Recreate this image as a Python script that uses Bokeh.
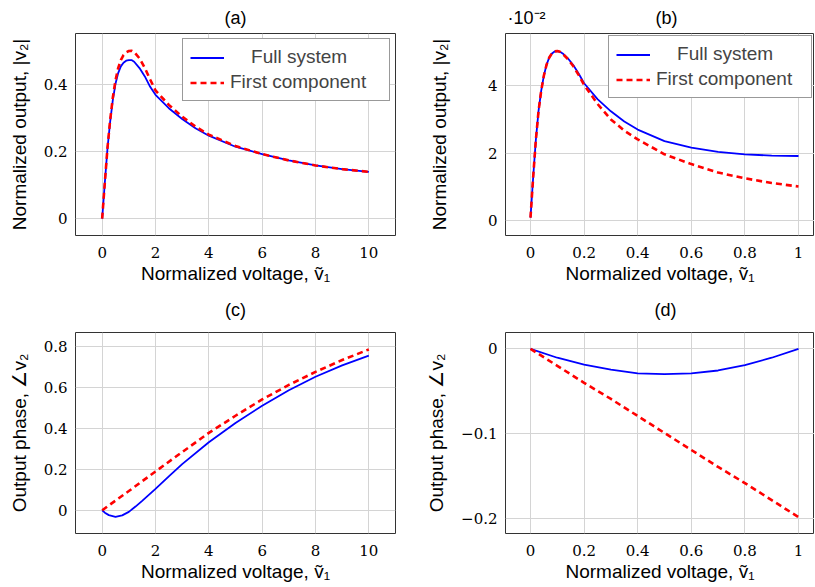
from bokeh.plotting import figure
from bokeh.layouts import column, row
from bokeh.models import FixedTicker, CustomJSTickFormatter, Range1d
from bokeh.embed import file_html
from bokeh.resources import INLINE

# ---------------- data ----------------
a_x = [0, 0.1, 0.2, 0.3, 0.4, 0.5, 0.6, 0.7, 0.8, 0.9, 1.0, 1.1, 1.2, 1.4, 1.6, 1.8, 2.0,
       2.5, 3.0, 3.5, 4.0, 5.0, 6.0, 7.0, 8.0, 9.0, 10.0]
a_full = [0, 0.108, 0.21, 0.29, 0.355, 0.403, 0.435, 0.455, 0.466, 0.472, 0.474, 0.474,
          0.469, 0.45, 0.425, 0.394, 0.37, 0.33, 0.298, 0.27, 0.248, 0.215, 0.193, 0.174,
          0.159, 0.148, 0.14]
a_first = [0, 0.108, 0.212, 0.295, 0.362, 0.413, 0.45, 0.474, 0.489, 0.497, 0.501, 0.502,
           0.498, 0.479, 0.45, 0.416, 0.383, 0.34, 0.305, 0.275, 0.251, 0.217, 0.193, 0.174,
           0.159, 0.148, 0.14]

b_x = [0, 0.01, 0.02, 0.03, 0.04, 0.05, 0.06, 0.07, 0.08, 0.09, 0.1, 0.11, 0.12, 0.14,
       0.16, 0.18, 0.2, 0.25, 0.3, 0.35, 0.4, 0.5, 0.6, 0.7, 0.8, 0.9, 1.0]
b_full = [0.1, 1.3, 2.4, 3.25, 3.85, 4.3, 4.62, 4.83, 4.95, 5.01, 5.02, 5.0, 4.95, 4.8,
          4.6, 4.35, 4.07, 3.6, 3.24, 2.94, 2.7, 2.36, 2.17, 2.04, 1.97, 1.93, 1.92]
b_first = [0.1, 1.3, 2.4, 3.25, 3.85, 4.3, 4.62, 4.83, 4.95, 5.01, 5.02, 5.0, 4.94, 4.78,
           4.57, 4.31, 4.02, 3.46, 3.0, 2.67, 2.41, 1.97, 1.68, 1.43, 1.26, 1.12, 1.02]

c_x_full = [0, 0.1, 0.25, 0.5, 0.75, 1, 1.25, 1.5, 2, 2.5, 3, 4, 5, 6, 7, 8, 9, 10]
c_full = [0, -0.012, -0.024, -0.032, -0.025, -0.008, 0.018, 0.046, 0.105, 0.166, 0.226,
          0.333, 0.428, 0.512, 0.588, 0.654, 0.71, 0.758]
c_x_first = [0, 1, 2, 3, 4, 5, 6, 7, 8, 9, 10]
c_first = [0, 0.094, 0.19, 0.285, 0.379, 0.463, 0.543, 0.614, 0.678, 0.736, 0.788]

d_x = [0, 0.1, 0.2, 0.3, 0.4, 0.5, 0.6, 0.7, 0.8, 0.9, 1.0]
d_full = [0, -0.0105, -0.0185, -0.0245, -0.029, -0.0298, -0.0288, -0.0255, -0.0192, -0.0105, 0]
d_first = [0, -0.02, -0.04, -0.059, -0.079, -0.099, -0.119, -0.139, -0.158, -0.178, -0.198]

x_ticks_wide = [0, 2, 4, 6, 8, 10]
x_ticks_unit = [0, 0.2, 0.4, 0.6, 0.8, 1]
a_yticks = [0, 0.2, 0.4]
b_yticks = [0, 2, 4]
c_yticks = [0, 0.2, 0.4, 0.6, 0.8]
d_yticks = [0, -0.1, -0.2]

label_full = "Full system"
label_first = "First component"
xlabel = "Normalized voltage, \u1e7d\u2081"
ylabel_mag = "Normalized output, |v\u2082|"
ylabel_phase = "Output phase, \u2220v\u2082"
b_scale = "\u00b710\u207b\u00b2"
titles = ["(a)", "(b)", "(c)", "(d)"]

BLUE = "#0000ff"
RED = "#ff0000"
SANS = "Liberation Sans"
SERIF = "DejaVu Serif"
NBSP = "\u00a0"

fmt_code = "var s = Number(tick.toFixed(3)).toString(); return s.replace('-', '\\u2212');"


def make_fig(title, xr, yr, xt, yt, ylab, w, h, bl, br, bt, bb, ylab_standoff,
             title_left_offset=None, standoff_title=8):
    p = figure(width=w, height=h, output_backend="svg", toolbar_location=None,
               x_range=Range1d(*xr), y_range=Range1d(*yr),
               min_border_left=bl, min_border_right=br, min_border_top=bt,
               min_border_bottom=bb)
    p.title.text = title
    p.title.text_font = SANS
    p.title.text_font_size = "18px"
    p.title.text_font_style = "normal"
    p.title.text_color = "black"
    p.title.standoff = standoff_title
    p.title.vertical_align = "top"
    if title_left_offset is None:
        p.title.align = "center"
    else:
        p.title.align = "left"
        p.title.offset = title_left_offset
    p.xaxis.ticker = FixedTicker(ticks=xt)
    p.yaxis.ticker = FixedTicker(ticks=yt)
    for ax in (p.xaxis[0], p.yaxis[0]):
        ax.formatter = CustomJSTickFormatter(code=fmt_code)
        ax.axis_line_color = None
        ax.major_tick_line_color = None
        ax.minor_tick_line_color = None
        ax.major_tick_out = 0
        ax.major_tick_in = 0
        ax.major_label_text_font = SERIF
        ax.major_label_text_font_size = "15px"
        ax.major_label_text_color = "black"
        ax.axis_label_text_font = SANS
        ax.axis_label_text_font_size = "19px"
        ax.axis_label_text_font_style = "normal"
        ax.axis_label_text_color = "black"
    p.xaxis.axis_label = xlabel
    p.xaxis.major_label_standoff = 11
    p.xaxis.axis_label_standoff = 2
    p.yaxis.axis_label = ylab
    p.yaxis.major_label_standoff = 8
    p.yaxis.axis_label_standoff = ylab_standoff
    p.grid.grid_line_color = "#d4d4d4"
    p.grid.grid_line_width = 1
    p.outline_line_color = "#333333"
    p.outline_line_width = 1
    p.outline_line_alpha = 1
    p.background_fill_color = "white"
    p.border_fill_color = "white"
    return p


def style_legend(p, lw, margin):
    lg = p.legend[0]
    lg.location = "top_right"
    lg.margin = margin
    lg.padding = 7
    lg.spacing = 3
    lg.label_text_font = SANS
    lg.label_text_font_size = "19px"
    lg.label_width = lw
    lg.label_height = 21
    lg.glyph_width = 34
    lg.glyph_height = 21
    lg.label_standoff = 6
    lg.border_line_color = "#333333"
    lg.border_line_width = 1
    lg.background_fill_alpha = 1


# legend labels are centred in the reference: pad the shorter one
full_entry = NBSP * 4 + label_full

# (a)
pa = make_fig(titles[0], (-1.0, 11.0), (-0.0503, 0.5533), x_ticks_wide, a_yticks, ylabel_mag,
              408, 286, 75, 13, 33, 49, 11, standoff_title=8)
pa.line(a_x, a_full, line_color=BLUE, line_width=1.8, legend_label=full_entry)
pa.line(a_x, a_first, line_color=RED, line_width=2.6, line_dash="6 4", legend_label=label_first)
style_legend(pa, 152, 5)

# (b)  -- scale factor and panel letter share the title line
pb = make_fig(b_scale + NBSP * 22 + titles[1], (-0.0933, 1.0597), (-0.43, 5.54),
              x_ticks_unit, b_yticks, ylabel_mag,
              406, 286, 97, 0, 33, 49, 35, title_left_offset=2, standoff_title=8)
pb.line(b_x, b_full, line_color=BLUE, line_width=1.8, legend_label=full_entry)
pb.line(b_x, b_first, line_color=RED, line_width=2.6, line_dash="6 4", legend_label=label_first)
style_legend(pb, 148, 2)

# (c)
pc = make_fig(titles[2], (-1.0, 11.0), (-0.114, 0.871), x_ticks_wide, c_yticks, ylabel_phase,
              408, 300, 75, 13, 46, 53, 11, standoff_title=21)
pc.line(c_x_full, c_full, line_color=BLUE, line_width=1.8)
pc.line(c_x_first, c_first, line_color=RED, line_width=2.6, line_dash="6 4")

# (d)
pd = make_fig(titles[3], (-0.0933, 1.0597), (-0.2173, 0.0192), x_ticks_unit, d_yticks, ylabel_phase,
              406, 300, 97, 0, 46, 53, 11, title_left_offset=149, standoff_title=21)
pd.line(d_x, d_full, line_color=BLUE, line_width=1.8)
pd.line(d_x, d_first, line_color=RED, line_width=2.6, line_dash="6 4")

layout = column(row(pa, pb), row(pc, pd))
open("out.html", "w").write(file_html(layout, INLINE))
